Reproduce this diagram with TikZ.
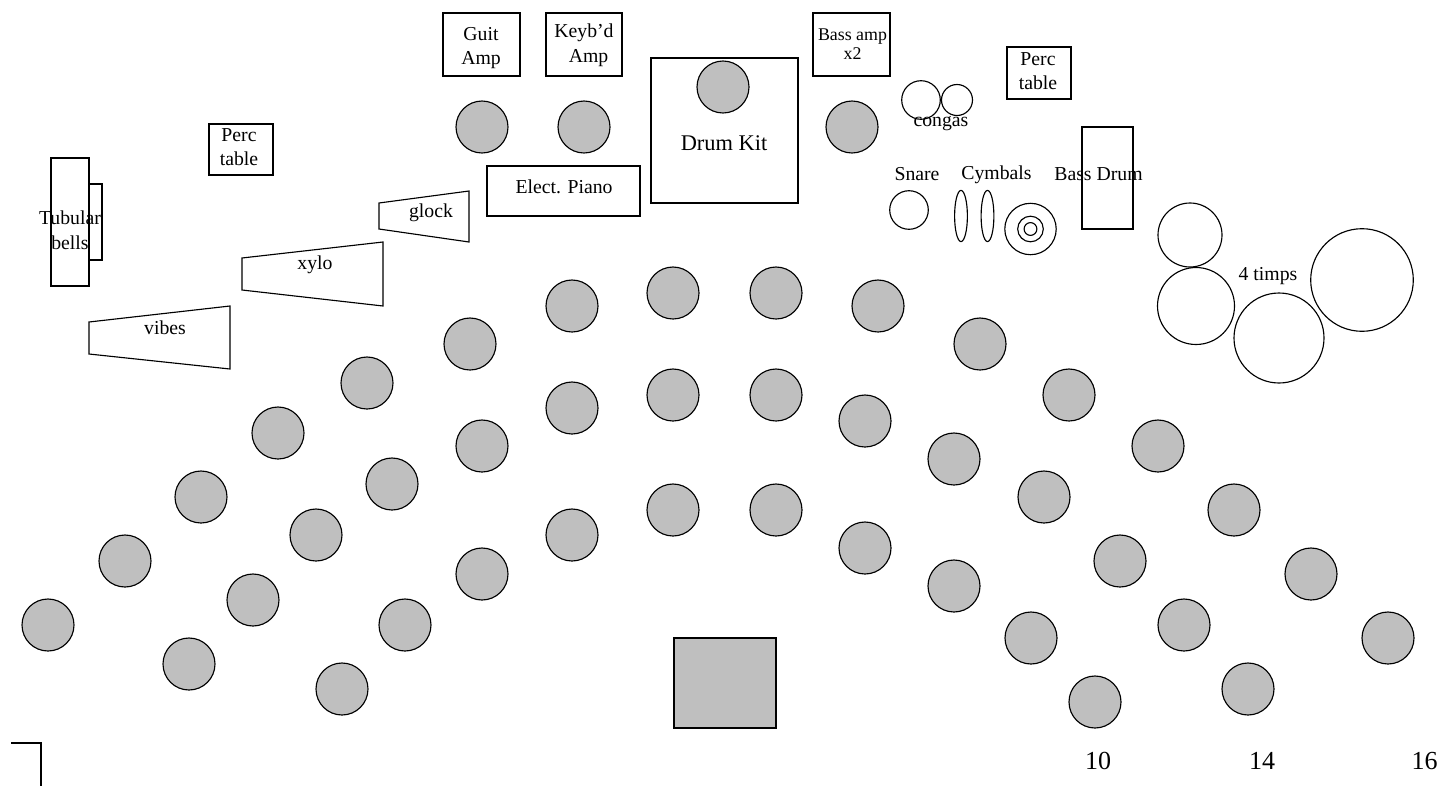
\documentclass[tikz,border=0pt]{standalone}
\usepackage{fontspec}
\setmainfont{Liberation Serif}
\begin{document}
\begin{tikzpicture}[x=0.75pt,y=-0.75pt,
  ink/.style={draw=black,line width=0.85pt},
  player/.style={ink,circle,fill=black!25,minimum size=39pt,inner sep=0pt},
  box/.style={ink,fill=white},
  lab/.style={font=\fontsize{14.8}{18.4}\selectfont,align=center,inner sep=0pt},
  smalllab/.style={font=\fontsize{13.4}{14.6}\selectfont,align=center,inner sep=0pt},
  biglab/.style={font=\fontsize{16.8}{20}\selectfont,align=center,inner sep=0pt},
  numlab/.style={font=\fontsize{19.5}{22}\selectfont,align=center,inner sep=0pt}]
\useasboundingbox (0,0) rectangle (1443,786);
% boxes
\draw[box] (443,13) rectangle (520,76);
\draw[box] (546,13) rectangle (622,76);
\draw[box] (813,13) rectangle (890,76);
\draw[box] (651,58) rectangle (798,203);
\draw[box] (487,166) rectangle (640,216);
\draw[box] (209,124) rectangle (273,175);
\draw[box] (1007,47) rectangle (1071,99);
\draw[box] (89,184) rectangle (102,260);
\draw[box] (51,158) rectangle (89,286);
\draw[box] (379,203) -- (469,191) -- (469,242) -- (379,229) -- cycle;
\draw[box] (242,258) -- (383,242) -- (383,306) -- (242,290) -- cycle;
\draw[box] (89,322) -- (230,306) -- (230,369) -- (89,354) -- cycle;
\draw[box] (1082,127) rectangle (1133,229);
\draw[ink,fill=black!25] (674,638) rectangle (776,728);
% congas, snare, cymbals
\draw[ink] (921,100) circle (19.3);
\draw[ink] (957,100) circle (15.5);
\draw[ink] (909,210) circle (19.3);
\draw[ink] (961,216) ellipse (6.4 and 25.6);
\draw[ink] (987.5,216) ellipse (6.4 and 25.6);
\draw[ink] (1030.5,229) circle (25.7);
\draw[ink] (1030.5,229) circle (12.8);
\draw[ink] (1030.5,229) circle (6.4);
% timps
\draw[ink] (1190,235) circle (32);
\draw[ink] (1196,306) circle (38.5);
\draw[ink] (1279,338) circle (45);
\draw[ink] (1362,280) circle (51.3);
% players
\foreach \x/\y [count=\i] in {48/625,125/561,201/497,278/433,367/383,470/344,572/306,673/293,776/293,878/306,980/344,1069/395,1158/446,1234/510,1311/574,1388/638,
  189/664,253/600,316/535,392/484,482/446,572/408,673/395,776/395,865/421,954/459,1044/497,1120/561,1184/625,1248/689,
  342/689,405/625,482/574,572/535,673/510,776/510,865/548,954/586,1031/638,1095/702,
  482/127,584/127,852/127,723/87}
  \node[player] (p\i) at (\x,\y) {};
% labels
\node[lab] (guit) at (481,48) {Guit\\Amp};
\node[lab] (keyb) at (584,45) {Keyb’d\\\hspace*{6.75pt}Amp};
\node[smalllab] (bass) at (852.5,44) {Bass amp\\x2};
\node[biglab] (kit) at (724,143) {Drum Kit};
\node[lab] (piano) at (564,187) {Elect. Piano};
\node[lab] (perca) at (239,147) {Perc\\table};
\node[lab] (percb) at (1038,71) {Perc\\table};
\node[lab] (tub) at (70,230) {Tubular\\bells};
\node[lab] (glock) at (431,213) {glock};
\node[lab] (xylo) at (315,265) {xylo};
\node[lab] (vibes) at (165,328) {vibes};
\node[lab] (congas) at (941,124) {congas};
\node[lab] (snare) at (917,174) {Snare};
\node[lab] (cymb) at (996.5,175) {Cymbals};
\node[lab] (bd) at (1098.5,174) {Bass Drum};
\node[lab] (timps) at (1268,276) {4 timps};
\node[numlab] (n10) at (1098,761) {10};
\node[numlab] (n14) at (1262,761) {14};
\node[numlab] (n16) at (1424.5,761) {16};
% corner
\coordinate (ca) at (11,743);
\coordinate (cb) at (41,743);
\coordinate (cc) at (41,786);
\draw[ink] (ca) -- (cb) -- (cc);
\end{tikzpicture}
\end{document}
